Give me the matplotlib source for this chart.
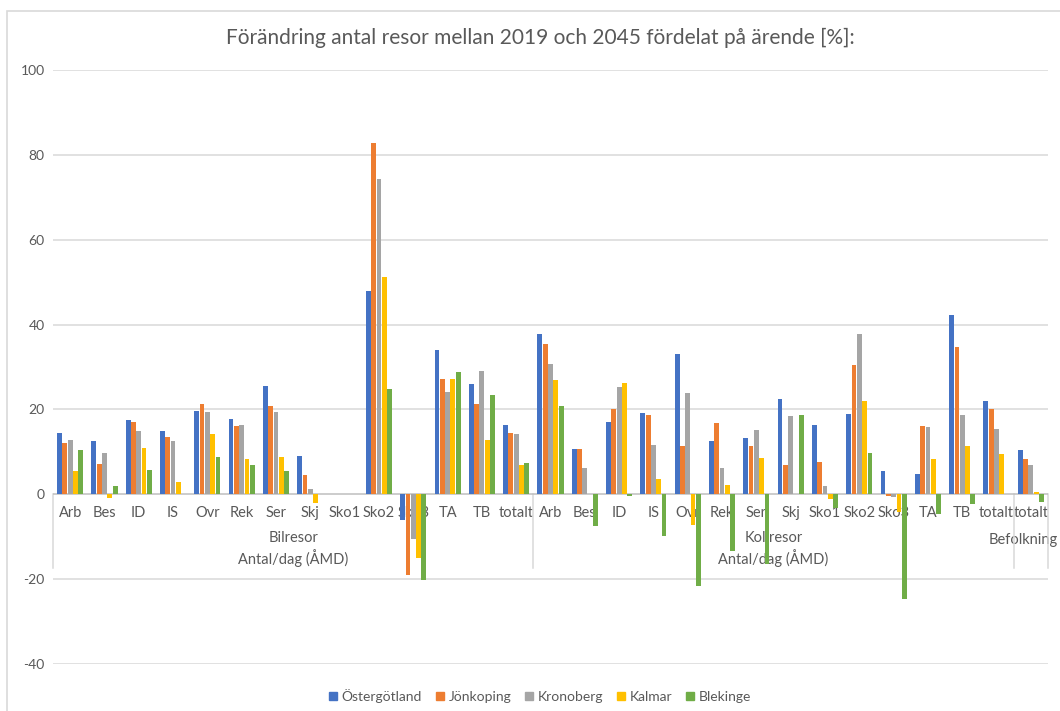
import matplotlib
matplotlib.use("Agg")
import matplotlib.pyplot as plt
import numpy as np
from matplotlib.patches import Rectangle

plt.rcParams['font.family'] = ['Lato', 'DejaVu Sans']

title = "Förändring antal resor mellan 2019 och 2045 fördelat på ärende [%]:"
series_names = ["Östergötland", "Jönkoping", "Kronoberg", "Kalmar", "Blekinge"]
colors = ["#4472C4", "#ED7D31", "#A5A5A5", "#FFC000", "#70AD47"]

sub_cats = ["Arb", "Bes", "ID", "IS", "Ovr", "Rek", "Ser", "Skj", "Sko1", "Sko2",
            "Sko3", "TA", "TB", "totalt"]
categories = sub_cats + sub_cats + ["totalt"]
groups = ["Bilresor\nAntal/dag (ÅMD)", "Kollresor\nAntal/dag (ÅMD)", "Befolkning"]
group_sizes = [14, 14, 1]

ostergotland = [14.5, 12.6, 17.5, 15.0, 19.7, 17.8, 25.5, 9.0, 0, 47.8, -6.0, 34.0, 26.1, 16.4,
                37.7, 10.6, 17.0, 19.1, 33.0, 12.6, 13.2, 22.4, 16.4, 19.0, 5.6, 4.8, 42.3, 21.9,
                10.5]
jonkoping = [12.0, 7.1, 17.1, 13.5, 21.2, 16.0, 20.7, 4.5, 0, 82.7, -19.0, 27.2, 21.2, 14.4,
             35.5, 10.6, 20.0, 18.8, 11.4, 16.8, 11.4, 7.0, 7.5, 30.5, -0.3, 16.2, 34.7, 20.0,
             8.2]
kronoberg = [12.7, 9.8, 15.0, 12.5, 19.3, 16.4, 19.3, 1.3, 0, 74.2, -10.5, 24.0, 29.1, 14.1,
             30.6, 6.3, 25.3, 11.6, 23.8, 6.3, 15.2, 18.4, 1.9, 37.7, -0.6, 15.9, 18.6, 15.4,
             6.8]
kalmar = [5.5, -0.8, 11.0, 3.0, 14.1, 8.2, 8.9, -2.0, 0, 51.3, -15.0, 27.2, 12.7, 7.0,
          27.0, 0, 26.2, 3.5, -7.2, 2.3, 8.5, 0, -1.1, 22.1, -4.2, 8.4, 11.3, 9.4,
          0.5]
blekinge = [10.5, 2.0, 5.7, 0, 8.7, 6.9, 5.5, 0, 0, 24.9, -20.3, 28.9, 23.5, 7.3,
            20.9, -7.5, -0.5, -9.8, -21.5, -13.4, -16.5, 18.7, -3.2, 9.8, -24.7, -4.6, -2.3, 0,
            -1.8]
values = [ostergotland, jonkoping, kronoberg, kalmar, blekinge]

yticks = [-40, -20, 0, 20, 40, 60, 80, 100]

fig = plt.figure(figsize=(10.6, 7.11), dpi=100)
ax = fig.add_axes([53/1060, 47/711, 995/1060, 594/711])

n = len(categories)
x = np.arange(n)
step = 0.155
bw = 0.14
for i, (name, vals, col) in enumerate(zip(series_names, values, colors)):
    ax.bar(x + (i - 2) * step, vals, width=bw, color=col, label=name, zorder=3)

ax.set_xlim(-0.5, n - 0.5)
ax.set_ylim(-40, 100)
ax.set_yticks(yticks)
ax.set_yticklabels([str(t) for t in yticks], fontsize=10, color="#595959")
ax.tick_params(axis='y', length=0, pad=6)
ax.set_xticks([])
for s in ax.spines.values():
    s.set_visible(False)
for t in yticks:
    if t != 0:
        ax.axhline(t, color="#d9d9d9", lw=1.1, zorder=0)
ax.axhline(0, color="#bfbfbf", lw=1.1, zorder=2)

# category labels (multi-level axis)
to_data = ax.transData.inverted()
def ydata(py):
    return to_data.transform((0, 711 - py))[1]
def xdata(px):
    return to_data.transform((px, 0))[0]

for i, c in enumerate(categories):
    ax.text(i, ydata(513), c, ha='center', va='center', fontsize=10.5,
            color="#595959", zorder=1)

start = 0
sep_positions = [-0.5]
for g, size in zip(groups, group_sizes):
    center = start + size / 2 - 0.5
    if g == "Befolkning":
        ax.text(xdata(1058), ydata(540), g, ha='right', va='center', fontsize=10.5,
                color="#595959", zorder=1, clip_on=False)
    else:
        ax.text(center, ydata(549), g, ha='center', va='center', fontsize=10.5,
                color="#595959", zorder=1, linespacing=1.3)
    start += size
    sep_positions.append(start - 0.5)
for sp in sep_positions:
    ax.plot([sp, sp], [0, ydata(568)], color="#d9d9d9", lw=1.1, zorder=1,
            clip_on=False)

fig.text(540/1060, 1 - 38/711, title, ha='center', va='center', fontsize=15,
         color="#595959")

# chart border
fig.patches.append(Rectangle((7/1060, -0.1), 1.2, 1 - 11/711 + 0.1,
                             transform=fig.transFigure, fill=False,
                             edgecolor="#d9d9d9", lw=1.2))

handles = [Rectangle((0, 0), 1, 1, color=c) for c in colors]
fig.legend(handles, series_names, loc='center', bbox_to_anchor=(540/1060, 1 - 696/711),
           ncol=5, frameon=False, fontsize=10, handlelength=0.6, handleheight=0.6,
           handletextpad=0.3, columnspacing=1.0, labelcolor="#595959")

fig.savefig("out.png", dpi=100)
